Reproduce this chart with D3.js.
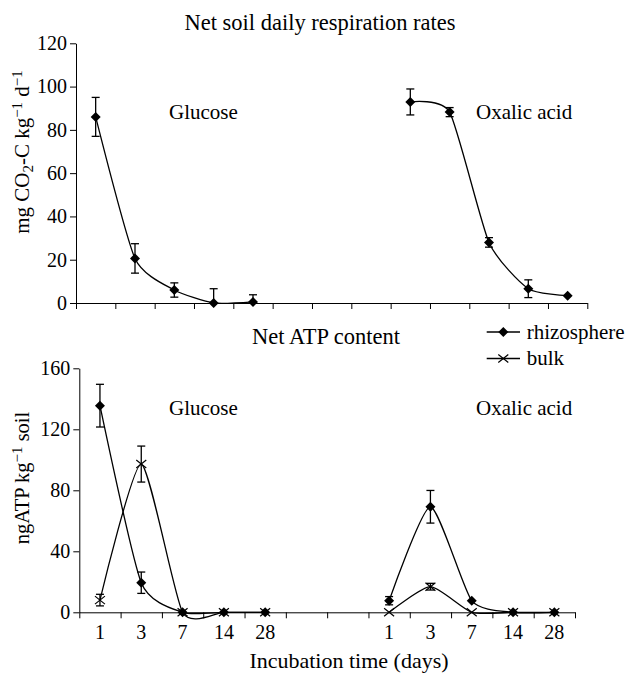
<!DOCTYPE html>
<html>
<head>
<meta charset="utf-8">
<script src="https://cdn.jsdelivr.net/npm/d3@7"></script>
<style>
  body { margin: 0; background: #fff; }
  svg, svg text { font-family: "Liberation Serif", "DejaVu Serif", serif; fill: #000; }
  .axis path, .axis line { stroke: #000; }
</style>
</head>
<body>
<div id="chart"></div>
<script>

// ---- data ----
const days = ["1", "3", "7", "14", "28"];

// net soil daily respiration (rhizosphere only)
const respGlucose = [86, 20.6, 6, 0, 0.5];
const respGlucoseErr = [9, 6.8, 3.3, 6.6, 3.3];
const respOxalic = [92.9, 88.2, 28, 6.6, 3.4];
const respOxalicErr = [6, 2.1, 2.2, 4.1, 0];

// net ATP content
const atpGlucoseRhizo = [135.5, 19.4, 0, 0, 0];
const atpGlucoseRhizoErr = [14, 7, 0, 0, 0];
const atpGlucoseBulk = [8, 97.2, 0, 0, 0];
const atpGlucoseBulkErr = [3.8, 11.8, 0, 0, 0];
const atpOxalicRhizo = [7.6, 69.2, 7.6, 0, 0];
const atpOxalicRhizoErr = [2.7, 10.7, 0, 0, 0];
const atpOxalicBulk = [0, 16.8, 0, 0, 0];
const atpOxalicBulkErr = [0, 2.2, 0, 0, 0];

const respTicks = [0, 20, 40, 60, 80, 100, 120];
const atpTicks = [0, 40, 80, 120, 160];

const width = 628, height = 675;
const FONT = "'Liberation Serif', 'DejaVu Serif', serif";

let svg = d3.select("#chart").append("svg")
  .attr("width", width)
  .attr("height", height)
  .attr("font-family", FONT);

// top panel has 3 empty slots between the treatments, bottom panel has 2
let topCats = ["g1", "g3", "g7", "g14", "g28", "e1", "e2", "e3", "o1", "o3", "o7", "o14", "o28"];
let botCats = ["g1", "g3", "g7", "g14", "g28", "e1", "e2", "o1", "o3", "o7", "o14", "o28"];

let xTop = d3.scaleBand().domain(topCats).range([76, 587.3]).padding(0);
let yTop = d3.scaleLinear().domain([0, 120]).range([303, 43.3]);

let xBot = d3.scaleBand().domain(botCats).range([79.3, 575]).padding(0);
let yBot = d3.scaleLinear().domain([0, 160]).range([612.3, 368.3]);

const line = d3.line().curve(d3.curveCardinal.tension(0.4));

function drawAxes(x, y, ticks, cats, labels) {
  // y axis
  svg.append("g")
    .attr("class", "axis")
    .attr("transform", "translate(" + x.range()[0] + ",0)")
    .call(d3.axisLeft(y).tickValues(ticks).tickSize(6).tickPadding(3).tickSizeOuter(0))
    .call(g => g.selectAll("text").attr("font-family", FONT).style("font-size", "20px"));

  // x axis: ticks between categories like Excel does
  let xb = d3.scaleLinear().domain([0, cats.length]).range(x.range());
  svg.append("g")
    .attr("class", "axis")
    .attr("transform", "translate(0," + y(0) + ")")
    .call(d3.axisBottom(xb).tickValues(d3.range(cats.length + 1)).tickSize(6).tickSizeOuter(0).tickFormat(""));

  if (labels) {
    svg.append("g")
      .attr("transform", "translate(0," + y(0) + ")")
      .call(d3.axisBottom(x).tickSize(0).tickPadding(13).tickFormat(c => c.startsWith("e") ? "" : c.slice(1)))
      .call(g => g.select(".domain").remove())
      .call(g => g.selectAll("text").attr("font-family", FONT).style("font-size", "20px"));
  }
}

function drawSeries(x, y, prefix, vals, errs, marker) {
  let pts = vals.map((v, i) => ({ cat: prefix + days[i], v: v, e: errs[i] }));
  let cx = d => x(d.cat) + x.bandwidth() / 2;

  svg.append("path")
    .attr("d", line(pts.map(d => [cx(d), y(d.v)])))
    .attr("fill", "none")
    .attr("stroke", "#000")
    .attr("stroke-width", 1.3);

  // error bars (clipped at zero like the plot area)
  let eb = svg.append("g").attr("stroke", "#000").attr("stroke-width", 1.3);
  pts.filter(d => d.e > 0).forEach(d => {
    let lo = y(Math.max(0, d.v - d.e)), hi = y(d.v + d.e), c = cx(d);
    eb.append("line").attr("x1", c).attr("x2", c).attr("y1", lo).attr("y2", hi);
    eb.append("line").attr("x1", c - 4).attr("x2", c + 4).attr("y1", hi).attr("y2", hi);
    if (d.v - d.e > 0) eb.append("line").attr("x1", c - 4).attr("x2", c + 4).attr("y1", lo).attr("y2", lo);
  });

  pts.forEach(d => drawMarker(cx(d), y(d.v), marker));
}

function drawMarker(px, py, marker) {
  if (marker == "diamond") {
    svg.append("path")
      .attr("d", "M" + px + "," + (py - 5) + "L" + (px + 5) + "," + py + "L" + px + "," + (py + 5) + "L" + (px - 5) + "," + py + "Z")
      .attr("fill", "#000");
  } else {
    svg.append("path")
      .attr("d", "M" + (px - 5) + "," + (py - 4) + "L" + (px + 5) + "," + (py + 4) + "M" + (px - 5) + "," + (py + 4) + "L" + (px + 5) + "," + (py - 4))
      .attr("stroke", "#000")
      .attr("stroke-width", 1.2);
  }
}

// ---- top panel: respiration ----
drawAxes(xTop, yTop, respTicks, topCats, false);
drawSeries(xTop, yTop, "g", respGlucose, respGlucoseErr, "diamond");
drawSeries(xTop, yTop, "o", respOxalic, respOxalicErr, "diamond");

// ---- bottom panel: ATP ----
drawAxes(xBot, yBot, atpTicks, botCats, true);
drawSeries(xBot, yBot, "g", atpGlucoseBulk, atpGlucoseBulkErr, "cross");
drawSeries(xBot, yBot, "g", atpGlucoseRhizo, atpGlucoseRhizoErr, "diamond");
drawSeries(xBot, yBot, "o", atpOxalicBulk, atpOxalicBulkErr, "cross");
drawSeries(xBot, yBot, "o", atpOxalicRhizo, atpOxalicRhizoErr, "diamond");

// ---- texts ----
function addText(x, y, str, size, anchor) {
  return svg.append("text").attr("x", x).attr("y", y)
    .attr("text-anchor", anchor || "start")
    .attr("font-family", FONT)
    .style("font-size", size + "px")
    .text(str);
}

addText(320, 30, "Net soil daily respiration rates", 22.5, "middle");
addText(326, 344, "Net ATP content", 22.5, "middle");
addText(169, 119, "Glucose", 21);
addText(476, 119, "Oxalic acid", 21);
addText(169, 415, "Glucose", 21);
addText(476, 415, "Oxalic acid", 21);
addText(349, 668, "Incubation time (days)", 22, "middle");

// y labels with super/subscripts
let yl1 = svg.append("text")
  .attr("transform", "translate(29,152) rotate(-90)")
  .attr("text-anchor", "middle")
  .attr("font-family", FONT)
  .style("font-size", "21px");
yl1.append("tspan").text("mg CO");
yl1.append("tspan").text("2").attr("baseline-shift", "-25%").style("font-size", "15px");
yl1.append("tspan").text("-C kg");
yl1.append("tspan").text("\u22121").attr("baseline-shift", "45%").style("font-size", "15px");
yl1.append("tspan").text(" d");
yl1.append("tspan").text("\u22121").attr("baseline-shift", "45%").style("font-size", "15px");

let yl2 = svg.append("text")
  .attr("transform", "translate(29,478) rotate(-90)")
  .attr("text-anchor", "middle")
  .attr("font-family", FONT)
  .style("font-size", "20.5px");
yl2.append("tspan").text("ngATP kg");
yl2.append("tspan").text("\u22121").attr("baseline-shift", "45%").style("font-size", "15px");
yl2.append("tspan").text(" soil");

// legend
const legendItems = [
  { name: "rhizosphere", marker: "diamond", y: 332 },
  { name: "bulk", marker: "cross", y: 358.5 }
];
legendItems.forEach(d => {
  svg.append("line").attr("x1", 486.7).attr("x2", 520).attr("y1", d.y).attr("y2", d.y)
    .attr("stroke", "#000").attr("stroke-width", 1.3);
  drawMarker(503.3, d.y, d.marker);
  addText(526.7, d.y + 6.5, d.name, 21);
});

</script>
</body>
</html>
